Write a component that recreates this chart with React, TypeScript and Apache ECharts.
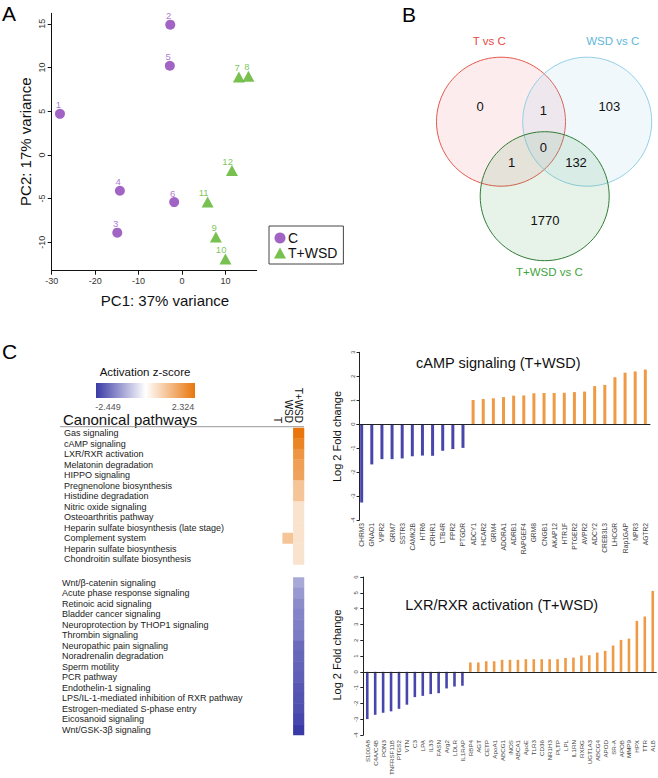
import React, { useEffect, useRef } from 'react';
import * as echarts from 'echarts';

const FONT = '"Liberation Sans", Arial, Helvetica, sans-serif';

// ---------- Panel A: PCA ----------
const groupC = 'C';
const groupT = 'T+WSD';
const cSamples = ['1', '2', '3', '4', '5', '6'];
const cPC1 = [-28.1, -2.7, -14.9, -14.3, -2.8, -1.8];
const cPC2 = [4.7, 14.9, -8.9, -4.1, 10.2, -5.4];
const tSamples = ['7', '8', '9', '10', '11', '12'];
const tPC1 = [13.1, 15.3, 7.8, 10.0, 5.9, 11.5];
const tPC2 = [8.9, 9.0, -9.4, -11.9, -5.4, -1.8];
const pcTicksX = [-30, -20, -10, 0, 10];
const pcTicksY = [-10, -5, 0, 5, 10, 15];

// ---------- Panel B: Venn ----------
const vennSetNames = ['T vs C', 'WSD vs C', 'T+WSD vs C'];
// regions: T only, T&WSD, WSD only, all three, T&T+WSD, WSD&T+WSD, T+WSD only
const vennRegionCounts = [0, 1, 103, 0, 1, 132, 1770];

// ---------- Panel C: heatmap ----------
const heatColumns = ['T', 'WSD', 'T+WSD'];
const upPathways = [
  'Gas signaling',
  'cAMP signaling',
  'LXR/RXR activation',
  'Melatonin degradation',
  'HIPPO signaling',
  'Pregnenolone biosynthesis',
  'Histidine degradation',
  'Nitric oxide signaling',
  'Osteoarthritis pathway',
  'Heparin sulfate biosynthesis (late stage)',
  'Complement system',
  'Heparin sulfate biosynthesis',
  'Chondroitin sulfate biosynthesis',
];
const upT: (number | null)[] = [null, null, null, null, null, null, null, null, null, null, null, null, null];
const upWSD: (number | null)[] = [null, null, null, null, null, null, null, null, null, null, 0.95, null, null];
const upTWSD = [2.324, 2.08, 1.78, 1.6, 1.55, 0.95, 0.95, 0.42, 0.42, 0.42, 0.42, 0.42, 0.42];
const downPathways = [
  'Wnt/β-catenin signaling',
  'Acute phase response signaling',
  'Retinoic acid signaling',
  'Bladder cancer signaling',
  'Neuroprotection by THOP1 signaling',
  'Thrombin signaling',
  'Neuropathic pain signaling',
  'Noradrenalin degradation',
  'Sperm motility',
  'PCR pathway',
  'Endothelin-1 signaling',
  'LPS/IL-1-mediated inhibition of RXR pathway',
  'Estrogen-mediated S-phase entry',
  'Eicosanoid signaling',
  'Wnt/GSK-3β signaling',
];
const downTWSD = [-1.1, -1.3, -1.45, -1.55, -1.6, -1.65, -1.85, -1.9, -1.95, -2.0, -2.1, -2.15, -2.2, -2.3, -2.449];
const zMin = -2.449;
const zMax = 2.324;

// ---------- cAMP signaling bars ----------
const campGenes = [
  'CHRM3', 'GNAO1', 'VIPR2', 'GRM7', 'SSTR3', 'CAMK2B', 'HTR6', 'CRHR1', 'LTB4R', 'FPR2', 'PTGDR',
  'ADCY1', 'HCAR2', 'GRM4', 'ADORA1', 'ADRB1', 'RAPGEF4', 'GRM8', 'CNGB1', 'AKAP12', 'HTR1F', 'PTGER2',
  'AVPR2', 'ADCY2', 'CREB3L3', 'LHCGR', 'Rap1GAP', 'NPR3', 'AGTR2',
];
const campLog2FC = [
  -3.27, -1.68, -1.46, -1.46, -1.43, -1.34, -1.31, -1.32, -1.11, -1.04, -0.99,
  1.01, 1.05, 1.08, 1.13, 1.19, 1.2, 1.29, 1.3, 1.3, 1.31, 1.34,
  1.36, 1.59, 1.64, 1.96, 2.15, 2.2, 2.28,
];
const campTicks = [-4, 3];

// ---------- LXR/RXR activation bars ----------
const lxrGenes = [
  'S100A8', 'C4A/C4B', 'PON3', 'TNFRSF11B', 'PTGS2', 'VTN', 'C3', 'LPA', 'IL33', 'FASN', 'Arg2', 'LDLR', 'IL1RAP',
  'RBP4', 'AGT', 'CETP', 'ApoA1', 'ABCG1', 'iNOS', 'ABCA1', 'ApoE', 'TLR3', 'CD36', 'NR1H3', 'PLTP', 'LPL',
  'IL1RN', 'RXRG', 'UGT1A3', 'ABCG4', 'APOD', 'SR-A', 'APOB', 'MMP9', 'HPX', 'TTR', 'ALB',
];
const lxrLog2FC = [
  -2.99, -2.72, -2.59, -2.5, -2.34, -2.08, -1.6, -1.52, -1.41, -1.35, -1.05, -0.93, -0.88,
  0.59, 0.59, 0.67, 0.67, 0.76, 0.76, 0.76, 0.8, 0.8, 0.8, 0.8, 0.8, 0.88,
  0.9, 1.03, 1.05, 1.22, 1.33, 1.66, 2.02, 2.1, 3.22, 3.5, 5.12,
];
const lxrTicks = [-4, 6];

const BLUE = '#4846ad';
const ORANGE = '#ef9a45';

function txt(text: string, x: number, y: number, size: number, color = '#000', align = 'center', vAlign = 'middle', rotation = 0) {
  return {
    type: 'text',
    x,
    y,
    rotation,
    silent: true,
    style: {
      text,
      fontSize: size,
      fontFamily: FONT,
      fill: color,
      align,
      verticalAlign: vAlign,
      textAlign: align,
      textVerticalAlign: vAlign,
    },
  };
}

function heatData(cols: (number | null)[][]) {
  const out: any[] = [];
  cols.forEach((col, ci) => {
    col.forEach((v, ri) => {
      if (v !== null && v !== undefined) out.push([ci, ri, v]);
    });
  });
  return out;
}

function barData(vals: number[]) {
  return vals.map((v) => ({ value: v, itemStyle: { color: v < 0 ? BLUE : ORANGE } }));
}

function buildOption(): any {
  const scatterAxisLine = { show: true, lineStyle: { color: '#111', width: 1 } };

  const vennCircles = [
    { cx: 501, cy: 121.7, fill: 'rgba(240,110,120,0.13)', stroke: '#e35a4c' },
    { cx: 587.2, cy: 121.7, fill: 'rgba(140,200,235,0.13)', stroke: '#93d0e6' },
    { cx: 544.7, cy: 196.2, fill: 'rgba(60,160,70,0.12)', stroke: '#2f7d36' },
  ];
  const vennRegionPos = [
    [480, 106], [543.3, 110], [609.3, 106], [543.3, 147.7], [511.7, 162.7], [576, 162.7], [545, 220.7],
  ];
  const vennLabelPos = [
    [489.3, 40.7, '#e5493d'], [612.7, 40.7, '#5fb7d9'], [549.3, 271.7, '#3ea53e'],
  ];

  const graphic: any[] = [
    txt('A', 2, 13, 21, '#000', 'left'),
    txt('B', 402, 14, 21, '#000', 'left'),
    txt('C', 2, 351, 21, '#000', 'left'),
    txt('PC2: 17% variance', 25, 141.7, 15, '#111', 'center', 'middle', Math.PI / 2),
    txt('PC1: 37% variance', 165, 300, 15, '#111'),
    ...vennCircles.map((c) => ({
      type: 'circle',
      silent: true,
      shape: { cx: c.cx, cy: c.cy, r: 64.5 },
      style: { fill: c.fill, stroke: c.stroke, lineWidth: 1 },
    })),
    ...vennSetNames.map((n, i) => txt(n, vennLabelPos[i][0] as number, vennLabelPos[i][1] as number, 11.5, vennLabelPos[i][2] as string)),
    ...vennRegionCounts.map((n, i) => txt(String(n), vennRegionPos[i][0], vennRegionPos[i][1], 13, '#111')),
    txt('Activation z-score', 145, 372, 11.5, '#111'),
    {
      type: 'rect',
      silent: true,
      shape: { x: 96, y: 383, width: 99, height: 15 },
      style: {
        fill: {
          type: 'linear', x: 0, y: 0, x2: 1, y2: 0,
          colorStops: [
            { offset: 0, color: '#3a3aa6' },
            { offset: 0.5, color: '#ffffff' },
            { offset: 1, color: '#e8760c' },
          ],
        },
      },
    },
    txt(String(zMin), 108, 407, 9, '#555'),
    txt(String(zMax), 183, 407, 9, '#555'),
    txt('Canonical pathways', 63, 419, 15, '#111', 'left'),
    { type: 'line', silent: true, shape: { x1: 60, y1: 426.7, x2: 304, y2: 426.7 }, style: { stroke: '#999', lineWidth: 1 } },
    txt('cAMP signaling (T+WSD)', 498.3, 363.3, 14.5, '#111'),
    txt('LXR/RXR activation (T+WSD)', 501.7, 605, 14.5, '#111'),
    txt('Log 2 Fold change', 337, 436.5, 11, '#111', 'center', 'middle', Math.PI / 2),
    txt('Log 2 Fold change', 337, 655, 11, '#111', 'center', 'middle', Math.PI / 2),
  ];

  const ptLabel = (color: string) => ({
    show: true,
    formatter: '{b}',
    position: 'top',
    align: 'right',
    distance: 0,
    offset: [1, 1],
    fontSize: 9.5,
    fontFamily: FONT,
    color,
  });

  return {
    animation: false,
    backgroundColor: '#fff',
    textStyle: { fontFamily: FONT },
    grid: [
      { left: 51.7, top: 13.3, width: 205, height: 257.4 },
      { left: 272, top: 428, width: 32, height: 136.5 },
      { left: 272, top: 577.5, width: 32, height: 157.5 },
      { left: 356.6, top: 352.3, width: 293.8, height: 167.7 },
      { left: 363.3, top: 577, width: 293.4, height: 159 },
    ],
    legend: {
      data: [
        { name: groupC, icon: 'circle' },
        { name: groupT, icon: 'triangle' },
      ],
      orient: 'vertical',
      left: 269,
      top: 226,
      padding: [5, 6, 4, 5],
      itemGap: 1,
      itemWidth: 12,
      itemHeight: 11,
      borderColor: '#444',
      borderWidth: 1,
      selectedMode: false,
      textStyle: { fontSize: 14, fontFamily: FONT, color: '#111', padding: [0, 0, 0, -3] },
    },
    visualMap: {
      type: 'continuous',
      show: false,
      min: zMin,
      max: zMax,
      seriesIndex: [2, 3],
      inRange: { color: ['#3a3aa6', '#ffffff', '#e8760c'] },
    },
    xAxis: [
      {
        type: 'value', gridIndex: 0, min: -30, max: 17.2,
        axisLine: { ...scatterAxisLine, onZero: false },
        axisTick: { show: true, length: 4, customValues: pcTicksX, lineStyle: { color: '#111' } },
        axisLabel: { customValues: pcTicksX, fontSize: 9, color: '#333', margin: 6 },
        splitLine: { show: false },
      },
      {
        type: 'category', gridIndex: 1, data: heatColumns, position: 'top',
        axisLine: { show: false }, axisTick: { show: false },
        axisLabel: { rotate: 90, fontSize: 10, color: '#111', margin: 5, interval: 0 },
      },
      { type: 'category', gridIndex: 2, data: heatColumns, show: false },
      {
        type: 'category', gridIndex: 3, data: campGenes, position: 'bottom',
        axisLine: { show: false, onZero: false }, axisTick: { show: false },
        axisLabel: { rotate: 90, fontSize: 6.7, color: '#444', margin: 3, interval: 0 },
      },
      {
        type: 'category', gridIndex: 4, data: lxrGenes, position: 'bottom',
        axisLine: { show: false, onZero: false }, axisTick: { show: false },
        axisLabel: { rotate: 90, fontSize: 6.2, color: '#444', margin: 5, interval: 0 },
      },
    ],
    yAxis: [
      {
        type: 'value', gridIndex: 0, min: -13.25, max: 16.2,
        axisLine: { ...scatterAxisLine, onZero: false },
        axisTick: { show: true, length: 4, customValues: pcTicksY, lineStyle: { color: '#111' } },
        axisLabel: { customValues: pcTicksY, fontSize: 9, color: '#333', margin: 5, rotate: 90 },
        splitLine: { show: false },
      },
      {
        type: 'category', gridIndex: 1, data: upPathways, inverse: true,
        axisLine: { show: false }, axisTick: { show: false },
        axisLabel: { align: 'left', margin: 208, fontSize: 9, color: '#222', interval: 0 },
      },
      {
        type: 'category', gridIndex: 2, data: downPathways, inverse: true,
        axisLine: { show: false }, axisTick: { show: false },
        axisLabel: { align: 'left', margin: 210, fontSize: 9, color: '#222', interval: 0 },
      },
      {
        type: 'value', gridIndex: 3, min: campTicks[0], max: campTicks[1], interval: 1, offset: -3,
        axisLine: { show: true, lineStyle: { color: '#222' } },
        axisTick: { show: true, length: 3, lineStyle: { color: '#222' } },
        axisLabel: { fontSize: 6, color: '#444', rotate: 90, margin: 4 },
        splitLine: { show: false },
      },
      {
        type: 'value', gridIndex: 4, min: lxrTicks[0], max: lxrTicks[1], interval: 1,
        axisLine: { show: true, lineStyle: { color: '#222' } },
        axisTick: { show: true, length: 3, lineStyle: { color: '#222' } },
        axisLabel: { fontSize: 6, color: '#444', rotate: 90, margin: 4 },
        splitLine: { show: false },
      },
    ],
    series: [
      {
        name: groupC, type: 'scatter', xAxisIndex: 0, yAxisIndex: 0,
        symbol: 'circle', symbolSize: 10,
        itemStyle: { color: '#8a3db6' },
        label: ptLabel('#9a55c8'),
        data: cSamples.map((s, i) => ({ name: s, value: [cPC1[i], cPC2[i]] })),
      },
      {
        name: groupT, type: 'scatter', xAxisIndex: 0, yAxisIndex: 0,
        symbol: 'triangle', symbolSize: [12, 11],
        itemStyle: { color: '#56b124' },
        label: ptLabel('#5cb82e'),
        data: tSamples.map((s, i) => ({ name: s, value: [tPC1[i], tPC2[i]] })),
      },
      {
        type: 'heatmap', xAxisIndex: 1, yAxisIndex: 1,
        data: heatData([upT, upWSD, upTWSD]),
        itemStyle: { borderWidth: 0 },
      },
      {
        type: 'heatmap', xAxisIndex: 2, yAxisIndex: 2,
        data: heatData([downPathways.map(() => null), downPathways.map(() => null), downTWSD]),
        itemStyle: { borderWidth: 0 },
      },
      {
        type: 'bar', xAxisIndex: 3, yAxisIndex: 3, barWidth: 3,
        data: barData(campLog2FC),
        markLine: {
          silent: true, symbol: ['none', 'none'], label: { show: false },
          lineStyle: { color: '#222', width: 1, type: 'solid' },
          data: [{ yAxis: 0 }],
        },
      },
      {
        type: 'bar', xAxisIndex: 4, yAxisIndex: 4, barWidth: 2.6,
        data: barData(lxrLog2FC),
        markLine: {
          silent: true, symbol: ['none', 'none'], label: { show: false },
          lineStyle: { color: '#222', width: 1, type: 'solid' },
          data: [{ yAxis: 0 }],
        },
      },
    ],
    graphic,
  };
}

export default function App() {
  const ref = useRef<HTMLDivElement>(null);
  useEffect(() => {
    if (!ref.current) return;
    const chart = echarts.init(ref.current, null, { renderer: 'svg' });
    chart.setOption(buildOption());
    return () => chart.dispose();
  }, []);
  return (
    <div
      ref={ref}
      style={{ position: 'absolute', left: 0, top: 0, width: 658, height: 778, background: '#fff' }}
    />
  );
}
